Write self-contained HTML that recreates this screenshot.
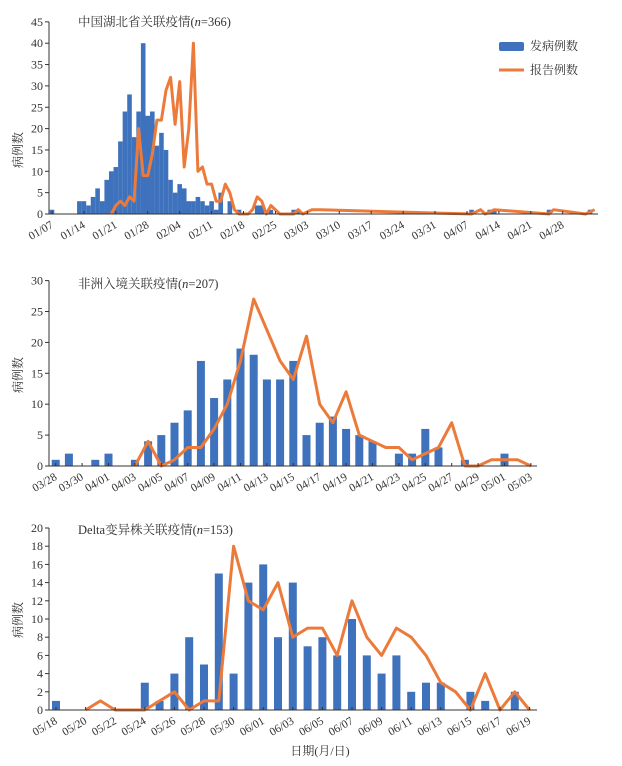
<!DOCTYPE html>
<html><head><meta charset="utf-8">
<style>
html,body{margin:0;padding:0;background:#fff;}
svg{display:block;font-family:"Liberation Serif","Noto Serif CJK SC","Noto Sans CJK SC",serif;}
</style></head>
<body>
<svg id="chart" width="622" height="766" viewBox="0 0 622 766" xmlns="http://www.w3.org/2000/svg"></svg>
<script>
// Panel 1: Hubei (day index from 01/07)
const p1BarDays = [0,6,7,8,9,10,11,12,13,14,15,16,17,18,19,20,21,22,23,24,25,26,27,28,29,30,31,32,33,34,35,36,37,39,41,45,46,48,53,54,92,96,97,109,118];
const p1BarVals = [1,3,3,2,4,6,3,8,10,11,17,24,28,18,24,40,23,24,16,19,15,8,5,7,6,3,3,4,3,2,3,1,5,3,1,2,2,1,1,1,1,1,1,1,1];
const p1LineDays = [13,14,15,16,17,18,19,20,21,22,23,24,25,26,27,28,29,30,31,32,33,34,35,36,37,38,39,40,41,42,43,44,45,46,47,48,49,50,53,54,55,57,59,75,92,94,95,97,109,110,117,119];
const p1LineVals = [0,2,3,2,4,3,20,9,9,14,22,22,29,32,21,31,11,20,40,10,11,7,7,3,3,7,5,1,0,0,0,1,4,3,0,2,1,0,0,1,0,1,1,0.5,0,1,0,1,0,1,0,1];
const p1TickLabels = ["01/07","01/14","01/21","01/28","02/04","02/11","02/18","02/25","03/03","03/10","03/17","03/24","03/31","04/07","04/14","04/21","04/28"];
const p1YTicks = [0,5,10,15,20,25,30,35,40,45];

// Panel 2: Africa (day index from 03/28)
const p2Bars = [1,2,0,1,2,0,1,4,5,7,9,17,11,14,19,18,14,14,17,5,7,8,6,5,4,0,2,2,6,3,0,1,0,0,2,0,0];
const p2LineDays = [6,7,8,9,10,11,12,13,14,15,16,17,18,19,20,21,22,23,24,25,26,27,28,29,30,31,32,33,34,35,36];
const p2LineVals = [0,4,0,1,3,3,6,10,17,27,22,17,14,21,10,7,12,5,4,3,3,1,2,3,7,0,0,1,1,1,0];
const p2TickLabels = ["03/28","03/30","04/01","04/03","04/05","04/07","04/09","04/11","04/13","04/15","04/17","04/19","04/21","04/23","04/25","04/27","04/29","05/01","05/03"];
const p2YTicks = [0,5,10,15,20,25,30];

// Panel 3: Delta (day index from 05/18)
const p3Bars = [1,0,0,0,0,0,3,1,4,8,5,15,4,14,16,8,14,7,8,6,10,6,4,6,2,3,3,0,2,1,0,2,0];
const p3LineDays = [2,3,4,5,6,7,8,9,10,11,12,13,14,15,16,17,18,19,20,21,22,23,24,25,26,27,28,29,30,31,32];
const p3LineVals = [0,1,0,0,0,1,2,0,1,1,18,12,11,14,8,9,9,6,12,8,6,9,8,6,3,2,0,4,0,2,0];
const p3TickLabels = ["05/18","05/20","05/22","05/24","05/26","05/28","05/30","06/01","06/03","06/05","06/07","06/09","06/11","06/13","06/15","06/17","06/19"];
const p3YTicks = [0,2,4,6,8,10,12,14,16,18,20];

const NS = "http://www.w3.org/2000/svg";
const svg = document.getElementById("chart");
function mk(tag, attrs, parent){
  const e = document.createElementNS(NS, tag);
  for (const k in attrs) e.setAttribute(k, attrs[k]);
  (parent||svg).appendChild(e);
  return e;
}
const BLUE = "#3f72bc", ORANGE = "#ec7b3b";

function panel(cfg){
  const g = mk("g", {});
  
  
  const xs = d => cfg.x0 + d*cfg.dx;
  const ys = v => cfg.base - v*cfg.unit;
  cfg.barDays.forEach((d,i)=>{
    const v = cfg.barVals[i];
    if (!v) return;
    const r = mk("rect", {x: xs(d)-cfg.bw/2, y: ys(v), width: cfg.bw, height: cfg.base-ys(v), fill: BLUE}, g);
    
    
  });
  const pts = cfg.lineDays.map((d,i)=> xs(d).toFixed(1)+","+ys(cfg.lineVals[i]).toFixed(1)).join(" ");
  const pl = mk("polyline", {points: pts, fill:"none", stroke: ORANGE, "stroke-width": 3, "stroke-linejoin":"round"}, g);
  
  
  const ya = mk("line", {x1: cfg.ax, y1: ys(cfg.yTicks[cfg.yTicks.length-1]), x2: cfg.ax, y2: cfg.base, stroke:"#333", "stroke-width":1}, g);
  
  
  const xa = mk("line", {x1: cfg.ax, y1: cfg.base, x2: cfg.axEnd, y2: cfg.base, stroke:"#333", "stroke-width":1}, g);
  
  
  cfg.yTicks.forEach(v=>{
    mk("line", {x1: cfg.ax-4, y1: ys(v), x2: cfg.ax, y2: ys(v), stroke:"#333"}, g);
    const t = mk("text", {x: cfg.ax-6, y: ys(v)+4, "text-anchor":"end", "font-size":12, fill:"#333"}, g);
    t.textContent = v;
    
    
  });
  cfg.tickLabels.forEach((lab,i)=>{
    const x = xs(i*cfg.tickStep);
    mk("line", {x1: x, y1: cfg.base-3, x2: x, y2: cfg.base, stroke:"#333"}, g);
    const t = mk("text", {x: x+2, y: cfg.base+13, "text-anchor":"end", "font-size":11.5, fill:"#333", transform:`rotate(-30 ${x+2} ${cfg.base+13})`}, g);
    t.textContent = lab;
    
    
  });
  const yt = mk("text", {x: 22, y: cfg.ylabY, "text-anchor":"middle", "font-size":12, fill:"#333", transform:`rotate(-90 22 ${cfg.ylabY})`}, g);
  yt.textContent = "病例数";
  
  
  const tt = mk("text", {x: 78, y: cfg.titleY, "font-size":12.5, fill:"#333"}, g);
  tt.innerHTML = cfg.title;
  
  
}

panel({name:"hubei-panel", x0:52, dx:4.56, base:214, unit:4.27, ax:49, axEnd:598, bw:4.6,
  barDays:p1BarDays, barVals:p1BarVals, lineDays:p1LineDays, lineVals:p1LineVals,
  tickLabels:p1TickLabels, tickStep:7, yTicks:p1YTicks, ylabY:150, titleY:26,
  title:'中国湖北省关联疫情(<tspan font-style="italic">n</tspan>=366)'});
panel({name:"africa-panel", x0:55.7, dx:13.2, base:466, unit:6.18, ax:49, axEnd:537, bw:8,
  barDays:p2Bars.map((v,i)=>i), barVals:p2Bars, lineDays:p2LineDays, lineVals:p2LineVals,
  tickLabels:p2TickLabels, tickStep:2, yTicks:p2YTicks, ylabY:375, titleY:288,
  title:'非洲入境关联疫情(<tspan font-style="italic">n</tspan>=207)'});
panel({name:"delta-panel", x0:56, dx:14.8, base:710, unit:9.1, ax:49, axEnd:537, bw:8,
  barDays:p3Bars.map((v,i)=>i), barVals:p3Bars, lineDays:p3LineDays, lineVals:p3LineVals,
  tickLabels:p3TickLabels, tickStep:2, yTicks:p3YTicks, ylabY:620, titleY:534,
  title:'Delta变异株关联疫情(<tspan font-style="italic">n</tspan>=153)'});

const lg = mk("g", {});


mk("rect", {x:499, y:42, width:25, height:9, rx:2, fill:BLUE}, lg);
const l1 = mk("text", {x:530, y:50, "font-size":12, fill:"#333"}, lg);
l1.textContent = "发病例数";


mk("line", {x1:499, y1:70, x2:524, y2:70, stroke:ORANGE, "stroke-width":3}, lg);
const l2 = mk("text", {x:530, y:74, "font-size":12, fill:"#333"}, lg);
l2.textContent = "报告例数";



const xt = mk("text", {x:320, y:755, "text-anchor":"middle", "font-size":12, fill:"#333"});
xt.textContent = "日期(月/日)";


</script>
</body></html>
